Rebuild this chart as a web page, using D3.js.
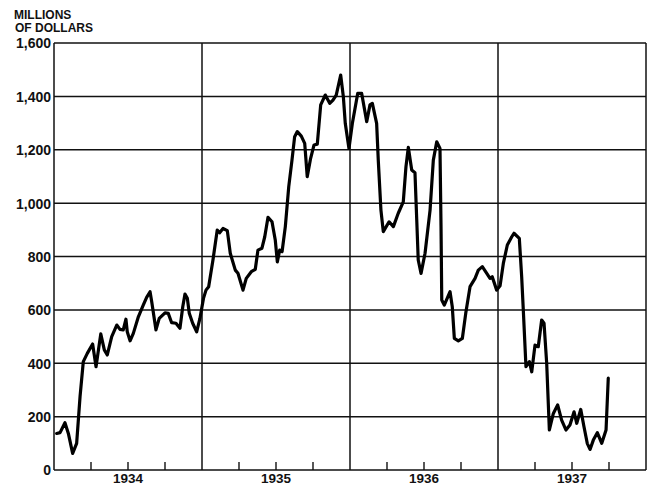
<!DOCTYPE html>
<html>
<head>
<meta charset="utf-8">
<script src="https://cdn.jsdelivr.net/npm/d3@7"></script>
<style>
  body { margin: 0; background: #fff; }
  svg text { font-family: "Liberation Sans", Arial, sans-serif; fill: #111; }
</style>
</head>
<body>
<div id="chart"></div>
<script>
// Time as decimal years, values in millions of dollars
const times = [
  1934.018, 1934.041, 1934.074, 1934.097, 1934.126, 1934.153, 1934.176, 1934.198, 1934.225, 1934.261,
  1934.284, 1934.316, 1934.340, 1934.360, 1934.390, 1934.424, 1934.446, 1934.468, 1934.486, 1934.495,
  1934.514, 1934.536, 1934.570, 1934.603, 1934.626, 1934.649, 1934.660, 1934.689, 1934.711, 1934.750,
  1934.772, 1934.795, 1934.824, 1934.851, 1934.870, 1934.885, 1934.901, 1934.914, 1934.937, 1934.964,
  1934.986, 1935.010, 1935.027, 1935.045, 1935.074, 1935.103, 1935.119, 1935.142, 1935.171, 1935.191,
  1935.225, 1935.243, 1935.277, 1935.299, 1935.333, 1935.360, 1935.378, 1935.405, 1935.424, 1935.446,
  1935.473, 1935.495, 1935.509, 1935.525, 1935.541, 1935.563, 1935.586, 1935.608, 1935.626, 1935.644,
  1935.671, 1935.694, 1935.711, 1935.734, 1935.757, 1935.779, 1935.802, 1935.833, 1935.863, 1935.885,
  1935.907, 1935.937, 1935.955, 1935.968, 1935.993, 1936.016, 1936.052, 1936.079, 1936.113, 1936.135,
  1936.151, 1936.180, 1936.191, 1936.209, 1936.225, 1936.264, 1936.293, 1936.326, 1936.360, 1936.378,
  1936.394, 1936.417, 1936.439, 1936.451, 1936.461, 1936.480, 1936.507, 1936.541, 1936.563, 1936.586,
  1936.608, 1936.615, 1936.620, 1936.637, 1936.676, 1936.691, 1936.705, 1936.732, 1936.759, 1936.782,
  1936.811, 1936.845, 1936.867, 1936.894, 1936.924, 1936.946, 1936.961, 1936.991, 1937.014, 1937.036,
  1937.063, 1937.093, 1937.108, 1937.144, 1937.160, 1937.171, 1937.189, 1937.212, 1937.228, 1937.250,
  1937.272, 1937.295, 1937.311, 1937.329, 1937.347, 1937.374, 1937.403, 1937.430, 1937.459, 1937.486,
  1937.514, 1937.532, 1937.559, 1937.581, 1937.603, 1937.622, 1937.644, 1937.671, 1937.701, 1937.730,
  1937.745
];
const values = [
  137, 140, 177, 137, 62, 100, 275, 406, 437, 472,
  387, 510, 450, 431, 500, 543, 527, 525, 565, 518,
  484, 512, 574, 618, 647, 668, 631, 525, 568, 589,
  587, 552, 550, 531, 612, 659, 643, 587, 550, 518,
  568, 643, 674, 687, 787, 899, 889, 905, 897, 812,
  749, 737, 674, 718, 743, 752, 824, 831, 874, 947,
  930, 862, 780, 824, 818, 912, 1061, 1161, 1249, 1268,
  1251, 1224, 1099, 1168, 1218, 1221, 1368, 1405, 1374, 1386,
  1405, 1480, 1399, 1299, 1205, 1299, 1411, 1411, 1305, 1368,
  1374, 1299, 1161, 974, 893, 930, 912, 962, 1005, 1136,
  1209, 1124, 1114, 937, 787, 737, 812, 974, 1161, 1230,
  1205, 912, 637, 618, 668, 612, 493, 484, 493, 587,
  687, 718, 749, 762, 737, 718, 724, 674, 690, 774,
  843, 874, 887, 868, 724, 599, 387, 406, 368, 468,
  462, 562, 550, 400, 150, 212, 244, 187, 150, 169,
  218, 175, 227, 162, 100, 77, 112, 140, 100, 150,
  344
];
const years = [1934, 1935, 1936, 1937];
const yTicks = [0, 200, 400, 600, 800, 1000, 1200, 1400, 1600];
const quarterTicks = [1934.25, 1934.5, 1934.75, 1935.25, 1935.5, 1935.75,
                      1936.25, 1936.5, 1936.75, 1937.25, 1937.5, 1937.75];

const W = 652, H = 487;
const margin = {top: 43, right: 6, bottom: 17, left: 54};
const width = W - margin.left - margin.right;
const height = H - margin.top - margin.bottom;

const svg = d3.select("#chart").append("svg")
    .attr("width", W).attr("height", H);
const g = svg.append("g")
    .attr("transform", `translate(${margin.left},${margin.top})`);

const x = d3.scaleLinear().domain([1934, 1938]).range([0, width]);
const y = d3.scaleLinear().domain([0, 1600]).range([height, 0]);

// Horizontal grid lines
g.selectAll(".hgrid")
    .data(yTicks)
    .enter().append("line")
    .attr("x1", 0).attr("x2", width)
    .attr("y1", d => y(d)).attr("y2", d => y(d))
    .attr("stroke", "#111").attr("stroke-width", 1.5);

// Year boundaries
g.selectAll(".vgrid")
    .data(years.concat([1938]))
    .enter().append("line")
    .attr("x1", d => x(d)).attr("x2", d => x(d))
    .attr("y1", 0).attr("y2", height)
    .attr("stroke", "#111").attr("stroke-width", 1.5);

// Quarter ticks
g.selectAll(".qtick")
    .data(quarterTicks)
    .enter().append("line")
    .attr("x1", d => x(d)).attr("x2", d => x(d))
    .attr("y1", height - 8).attr("y2", height)
    .attr("stroke", "#111").attr("stroke-width", 1.4);

// Y axis labels
const yAxis = g.append("g")
    .call(d3.axisLeft(y).tickValues(yTicks).tickSize(0).tickPadding(3)
        .tickFormat(d3.format(",")));
yAxis.select(".domain").remove();
yAxis.selectAll("text")
    .style("font-size", "14px").style("font-weight", "bold")
    .attr("dy", "0.35em");

// X labels centered in each year
g.selectAll(".ylab")
    .data(years)
    .enter().append("text")
    .attr("x", d => x(d + 0.5))
    .attr("y", height + 13)
    .attr("text-anchor", "middle")
    .style("font-size", "13.5px").style("font-weight", "bold")
    .text(d => d);

// Unit label
svg.append("text").attr("x", 14).attr("y", 19)
    .style("font-size", "12px").style("font-weight", "bold")
    .text("MILLIONS");
svg.append("text").attr("x", 15).attr("y", 32)
    .style("font-size", "12px").style("font-weight", "bold")
    .text("OF DOLLARS");

// Data line
const data = times.map((t, i) => ({t: t, v: values[i]}));
g.append("path")
    .datum(data)
    .attr("fill", "none")
    .attr("stroke", "#000")
    .attr("stroke-width", 3.2)
    .attr("stroke-linejoin", "round")
    .attr("stroke-linecap", "round")
    .attr("d", d3.line().x(d => x(d.t)).y(d => y(d.v)));
</script>
</body>
</html>
